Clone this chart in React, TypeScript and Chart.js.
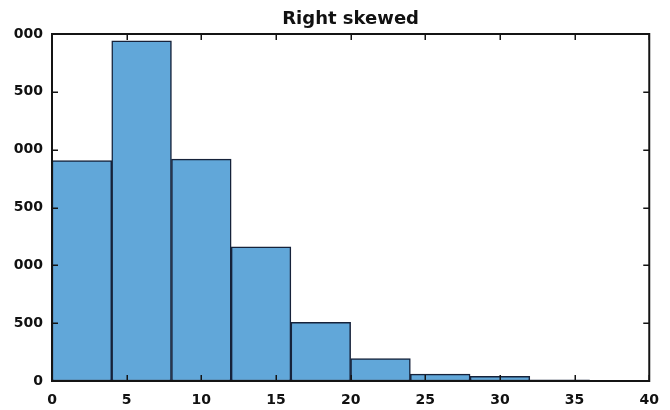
import React, { useEffect, useRef } from "react";
import { Chart, registerables } from "chart.js";

Chart.register(...registerables);

// Histogram data (bin width 4)
const binCenters = [2, 6, 10, 14, 18, 22, 26, 30, 34];
const counts = [1906, 2941, 1918, 1161, 507, 193, 60, 41, 11];
const xTickValues = [0, 5, 10, 15, 20, 25, 30, 35, 40];
const yTickValues = [0, 500, 1000, 1500, 2000, 2500, 3000];
const chartTitle = "Right skewed";

const FONT = "'DejaVu Sans', Arial, sans-serif";

const boxPlugin = {
  id: "matlabBox",
  afterDatasetsDraw(chart: any) {
    const { ctx, chartArea, scales } = chart;
    const { left, right, top, bottom } = chartArea;
    const x = scales.x;
    const y = scales.y;
    ctx.save();
    ctx.strokeStyle = "#141414";
    ctx.lineWidth = 1.5;
    ctx.beginPath();
    const tl = 6;
    xTickValues.forEach((v) => {
      const px = Math.round(x.getPixelForValue(v)) + 0.25;
      ctx.moveTo(px, bottom);
      ctx.lineTo(px, bottom - tl);
      ctx.moveTo(px, top);
      ctx.lineTo(px, top + tl);
    });
    yTickValues.forEach((v) => {
      const py = Math.round(y.getPixelForValue(v)) + 0.25;
      ctx.moveTo(left, py);
      ctx.lineTo(left + tl, py);
      ctx.moveTo(right, py);
      ctx.lineTo(right - tl, py);
    });
    ctx.stroke();
    ctx.lineWidth = 2;
    ctx.strokeRect(left, top, right - left, bottom - top);
    ctx.restore();
  },
};

export default function App() {
  const ref = useRef<HTMLCanvasElement | null>(null);

  useEffect(() => {
    if (!ref.current) return;
    const chart = new Chart(ref.current, {
      type: "bar",
      data: {
        datasets: [
          {
            data: binCenters.map((c, i) => ({ x: c, y: counts[i] })),
            backgroundColor: "#61a7d9",
            borderColor: "#16223a",
            borderWidth: 1.5,
            borderSkipped: false,
            barPercentage: 1,
            categoryPercentage: 1,
          },
        ],
      },
      options: {
        animation: false,
        responsive: false,
        devicePixelRatio: 1,
        layout: { padding: { left: 0, right: 19, top: 0, bottom: 0 } },
        plugins: {
          legend: { display: false },
          tooltip: { enabled: false },
          title: {
            display: true,
            fullSize: false,
            text: chartTitle,
            color: "#111111",
            font: { family: FONT, size: 18, weight: "bold" },
            padding: { top: 9, bottom: 3.4 },
          },
        },
        scales: {
          x: {
            type: "linear",
            min: 0,
            max: 40,
            offset: false,
            afterFit: (s: any) => {
              s.height = 29;
            },
            afterBuildTicks: (s: any) => {
              s.ticks = xTickValues.map((v) => ({ value: v }));
            },
            grid: { display: false, drawTicks: false },
            border: { display: false },
            ticks: {
              color: "#111111",
              font: { family: FONT, size: 14, weight: "bold" },
              padding: 11,
              maxRotation: 0,
              autoSkip: false,
              callback: (v: any) => String(v),
            },
          },
          y: {
            type: "linear",
            min: 0,
            max: 3000,
            afterFit: (s: any) => {
              s.width = 52;
            },
            afterBuildTicks: (s: any) => {
              s.ticks = yTickValues.map((v) => ({ value: v }));
            },
            grid: { display: false, drawTicks: false },
            border: { display: false },
            ticks: {
              color: "#111111",
              font: { family: FONT, size: 14, weight: "bold" },
              padding: 9,
              autoSkip: false,
              callback: (v: any) => String(v),
            },
          },
        },
      },
      plugins: [boxPlugin],
    });
    return () => chart.destroy();
  }, []);

  return (
    <div
      style={{
        position: "fixed",
        left: 0,
        top: 0,
        width: 670,
        height: 410,
        overflow: "hidden",
        background: "#ffffff",
      }}
    >
      <div
        style={{
          position: "absolute",
          left: 14,
          top: 0,
          width: 656,
          height: 410,
          overflow: "hidden",
        }}
      >
        <canvas
          ref={ref}
          width={670}
          height={410}
          style={{ position: "absolute", left: -14, top: 0, width: 670, height: 410 }}
        />
      </div>
    </div>
  );
}
